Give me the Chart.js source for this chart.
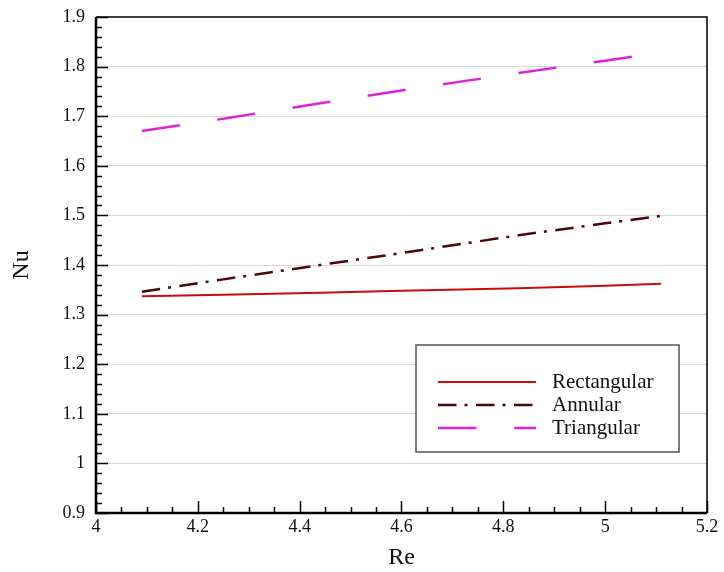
<!DOCTYPE html>
<html><head><meta charset="utf-8">
<script src="https://cdn.jsdelivr.net/npm/chart.js@4"></script>
<style>html,body{margin:0;padding:0;background:#fff}canvas{display:block}</style>
</head><body>
<canvas id="c" width="724" height="572"></canvas>
<script>
const reValues    = [4.09, 4.25, 4.44, 4.60, 4.83, 5.00, 5.11];
const rectangular = [1.337, 1.340, 1.344, 1.348, 1.353, 1.358, 1.362];
const annular     = [1.346, 1.371, 1.400, 1.424, 1.460, 1.484, 1.499];
const triangular  = [1.670, 1.695, 1.726, 1.752, 1.787, 1.812, 1.829];
const seriesNames = ['Rectangular', 'Annular', 'Triangular'];
const xTickValues = [4, 4.2, 4.4, 4.6, 4.8, 5, 5.2];
const yTickValues = [0.9, 1, 1.1, 1.2, 1.3, 1.4, 1.5, 1.6, 1.7, 1.8, 1.9];

const SERIF = '"Liberation Serif", "Times New Roman", serif';
const toPts = arr => arr.map((v, i) => ({x: reValues[i], y: v}));

const framePlugin = {
  id: 'frameTicks',
  afterDatasetsDraw(chart) {
    const {ctx, chartArea: ca, scales: {x, y}} = chart;
    ctx.save();
    ctx.setLineDash([]);
    ctx.strokeStyle = '#000';
    ctx.lineWidth = 1.5;
    for (let i = 0; i <= 24; i++) {
      const v = 4 + i * 0.05;
      const px = Math.round(x.getPixelForValue(v)) + 0.5;
      const len = (i % 4 === 0) ? 12 : 6;
      ctx.beginPath(); ctx.moveTo(px, ca.bottom); ctx.lineTo(px, ca.bottom - len); ctx.stroke();
    }
    for (let i = 0; i <= 50; i++) {
      const v = 0.9 + i * 0.02;
      const py = Math.round(y.getPixelForValue(v)) + 0.5;
      const len = (i % 5 === 0) ? 12 : 6;
      ctx.beginPath(); ctx.moveTo(ca.left, py); ctx.lineTo(ca.left + len, py); ctx.stroke();
    }
    ctx.lineWidth = 1.5;
    ctx.beginPath();
    ctx.moveTo(ca.left, ca.top); ctx.lineTo(ca.right, ca.top); ctx.lineTo(ca.right, ca.bottom);
    ctx.stroke();
    ctx.lineWidth = 2.5;
    ctx.beginPath();
    ctx.moveTo(ca.left, ca.top); ctx.lineTo(ca.left, ca.bottom); ctx.lineTo(ca.right, ca.bottom);
    ctx.stroke();
    ctx.restore();
  },
  afterDraw(chart) {
    const {ctx, chartArea: ca} = chart;
    const bx = ca.left + 320, by = ca.top + 328, bw = 263, bh = 107;
    ctx.save();
    ctx.fillStyle = '#fff';
    ctx.fillRect(bx, by, bw, bh);
    ctx.strokeStyle = '#555';
    ctx.lineWidth = 1.5;
    ctx.setLineDash([]);
    ctx.strokeRect(bx, by, bw, bh);
    chart.data.datasets.forEach((ds, i) => {
      const ry = by + 37 + i * 23;
      ctx.save();
      ctx.strokeStyle = ds.borderColor;
      ctx.lineWidth = ds.borderWidth;
      ctx.setLineDash(ds.borderDash || []);
      ctx.beginPath(); ctx.moveTo(bx + 22, ry); ctx.lineTo(bx + 120, ry); ctx.stroke();
      ctx.restore();
      ctx.fillStyle = '#111';
      ctx.font = '21px ' + SERIF;
      ctx.textBaseline = 'middle';
      ctx.textAlign = 'left';
      ctx.fillText(ds.label, bx + 136, ry);
    });
    ctx.restore();
  }
};

new Chart(document.getElementById('c'), {
  type: 'line',
  data: {
    datasets: [
      {label: seriesNames[0], data: toPts(rectangular), borderColor: '#cc0a0a', borderWidth: 2, borderDash: []},
      {label: seriesNames[1], data: toPts(annular), borderColor: '#4a0808', borderWidth: 2.5, borderDash: [18.5, 8, 3, 8.5]},
      {label: seriesNames[2], data: toPts(triangular), borderColor: '#dd22dd', borderWidth: 2.5, borderDash: [38.4, 37.8]}
    ]
  },
  options: {
    responsive: false,
    animation: false,
    elements: {point: {radius: 0}, line: {tension: 0, borderCapStyle: 'butt'}},
    layout: {padding: {top: 17, right: 17, left: 0, bottom: 0}},
    plugins: {legend: {display: false}, tooltip: {enabled: false}},
    scales: {
      x: {
        type: 'linear', min: 4, max: 5.2,
        afterBuildTicks: s => { s.ticks = xTickValues.map(v => ({value: v})); },
        afterFit: s => { s.height = 59; s.paddingLeft = 0; s.paddingRight = 0; },
        grid: {display: false, drawTicks: false},
        border: {display: false},
        ticks: {color: '#111', font: {family: SERIF, size: 18}, padding: 3, maxRotation: 0,
                callback: v => String(+Number(v).toFixed(2))},
        title: {display: true, text: 'Re', color: '#111', font: {family: SERIF, size: 24}, padding: {top: 0, bottom: 0}}
      },
      y: {
        type: 'linear', min: 0.9, max: 1.9,
        afterBuildTicks: s => { s.ticks = yTickValues.map(v => ({value: v})); },
        afterFit: s => { s.width = 96; s.paddingTop = 0; s.paddingBottom = 0; },
        grid: {drawTicks: false, lineWidth: 1,
               color: c => (c.tick && (Math.abs(c.tick.value - 0.9) < 1e-6 || Math.abs(c.tick.value - 1.9) < 1e-6)) ? 'rgba(0,0,0,0)' : '#d8d8d8'},
        border: {display: false},
        ticks: {color: '#111', font: {family: SERIF, size: 18}, padding: 11,
                callback: v => String(+Number(v).toFixed(2))},
        title: {display: true, text: 'Nu', color: '#111', font: {family: SERIF, size: 24}, padding: {top: 7, bottom: 0}}
      }
    }
  },
  plugins: [framePlugin]
});
</script>
</body></html>
